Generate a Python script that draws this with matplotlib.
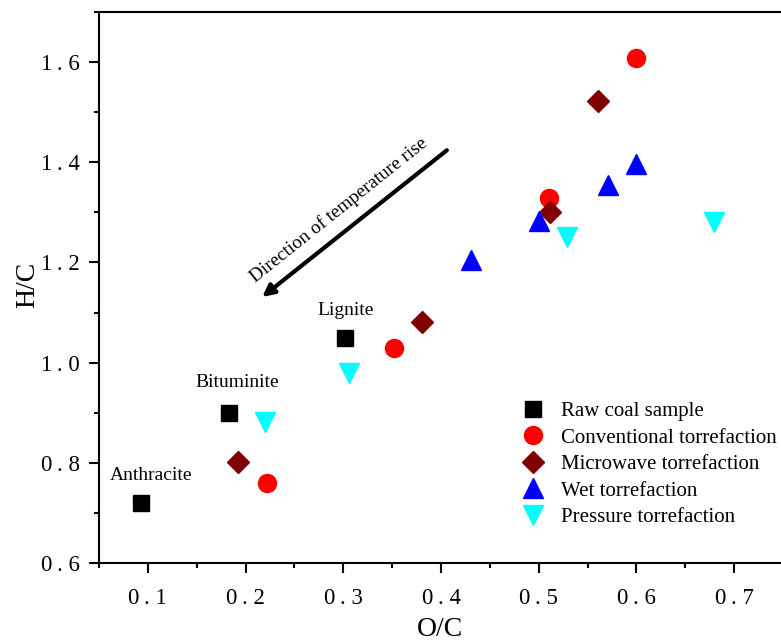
import matplotlib
matplotlib.use("Agg")
import matplotlib.pyplot as plt
from matplotlib.ticker import FixedLocator, MultipleLocator

# ---- data ----
raw_oc = [0.093, 0.183, 0.302]
raw_hc = [0.720, 0.900, 1.050]
raw_names = ["Anthracite", "Bituminite", "Lignite"]

conv_oc = [0.222, 0.352, 0.511, 0.600]
conv_hc = [0.760, 1.030, 1.328, 1.609]

micro_oc = [0.192, 0.381, 0.512, 0.561]
micro_hc = [0.801, 1.082, 1.301, 1.522]

wet_oc = [0.431, 0.500, 0.571, 0.600]
wet_hc = [1.205, 1.283, 1.354, 1.396]

press_oc = [0.220, 0.306, 0.529, 0.679]
press_hc = [0.882, 0.979, 1.251, 1.280]

series_labels = ["Raw coal sample", "Conventional torrefaction",
                 "Microwave torrefaction", "Wet torrefaction",
                 "Pressure torrefaction"]

xticks = [0.1, 0.2, 0.3, 0.4, 0.5, 0.6, 0.7]
xtick_labels = ["0\u2009. 1", "0\u2009. 2", "0\u2009. 3", "0\u2009. 4",
                "0\u2009. 5", "0\u2009. 6", "0\u2009. 7"]
yticks = [0.6, 0.8, 1.0, 1.2, 1.4, 1.6]
ytick_labels = ["0\u2009. 6", "0\u2009. 8", "1\u2009. 0", "1\u2009. 2",
                "1\u2009. 4", "1\u2009. 6"]

serif = ["Liberation Serif", "DejaVu Serif"]
plt.rcParams["font.family"] = serif

fig = plt.figure(figsize=(7.81, 6.41), dpi=100)
ax = fig.add_axes([99 / 781, 1 - 563 / 641, (783 - 99) / 781, (563 - 12) / 641])

ax.plot(raw_oc, raw_hc, ls="none", marker="s", ms=11.5, color="black",
        label=series_labels[0])
ax.plot(conv_oc, conv_hc, ls="none", marker="o", ms=13, color="#ff0000",
        label=series_labels[1])
ax.plot(micro_oc, micro_hc, ls="none", marker="D", ms=11, color="#800000",
        label=series_labels[2])
ax.plot(wet_oc, wet_hc, ls="none", marker="^", ms=14.5, color="#0000ff",
        label=series_labels[3])
ax.plot(press_oc, press_hc, ls="none", marker="v", ms=14.5, color="#00ffff",
        label=series_labels[4])

# coal labels
offsets = [(0.0105, 0.054), (0.008, 0.061), (0.0, 0.055)]
for x, y, name, (dx, dy) in zip(raw_oc, raw_hc, raw_names, offsets):
    ax.text(x + dx, y + dy, name, ha="center", va="center", fontsize=14)

# arrow
ax.annotate("", xy=(0.217, 1.131), xytext=(0.406, 1.424),
            arrowprops=dict(arrowstyle="-|>,head_length=0.7,head_width=0.35",
                            lw=3, color="black", shrinkA=0, shrinkB=0))
ax.text(0.2955, 1.305, "Direction of temperature rise", rotation=38.6,
        rotation_mode="anchor", ha="center", va="center", fontsize=13.8)

ax.set_xlim(0.05, 0.75)
ax.set_ylim(0.6, 1.7)
ax.xaxis.set_major_locator(FixedLocator(xticks))
ax.set_xticklabels(xtick_labels)
ax.xaxis.set_minor_locator(MultipleLocator(0.05))
ax.yaxis.set_major_locator(FixedLocator(yticks))
ax.set_yticklabels(ytick_labels)
ax.yaxis.set_minor_locator(MultipleLocator(0.1))

ax.tick_params(which="both", direction="out", width=1.5, labelsize=16.5,
               top=False, right=False)
ax.tick_params(which="major", length=7, pad=7)
ax.tick_params(axis="x", which="major", pad=11)
ax.tick_params(which="minor", length=3.5)
for s in ax.spines.values():
    s.set_linewidth(1.5)

ax.set_xlabel("O/C", fontsize=20)
ax.set_ylabel("H/C", fontsize=20)
ax.xaxis.set_label_coords((440 - 99) / 684, (563 - 629) / 551)
ax.xaxis.label.set_va("center")
ax.yaxis.set_label_coords((28 - 99) / 684, (563 - 285) / 551)
ax.yaxis.label.set_va("center")

leg = ax.legend(loc="upper left", bbox_to_anchor=(0.616, 0.293),
                frameon=False, fontsize=15, handletextpad=0.75,
                labelspacing=0.33, handlelength=1.2, borderpad=0.0,
                borderaxespad=0.0)

fig.savefig("out.png", dpi=100)
